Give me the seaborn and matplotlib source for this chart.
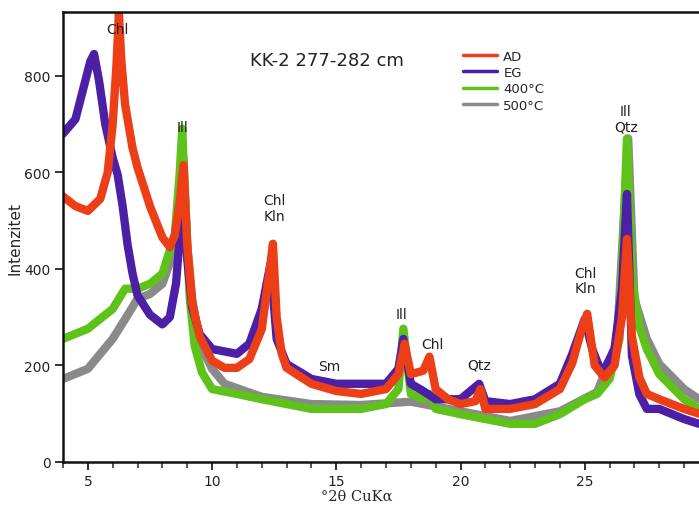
import numpy as np
import pandas as pd
import matplotlib
matplotlib.use("Agg")
import matplotlib.pyplot as plt
import seaborn as sns
from matplotlib.ticker import MultipleLocator

# ---- data (°2θ, intensity) ----
ad_x = [4.0, 4.5, 5.0, 5.5, 5.8, 6.0, 6.15, 6.25, 6.35, 6.5, 6.8, 7.0, 7.5, 8.0, 8.3, 8.5, 8.7, 8.85,
        9.0, 9.2, 9.5, 10.0, 10.5, 11.0, 11.5, 12.0, 12.3, 12.45, 12.6, 12.8, 13.0, 14.0, 15.0, 16.0,
        17.0, 17.5, 17.75, 18.0, 18.5, 18.75, 19.0, 19.5, 20.0, 20.6, 20.8, 21.0, 22.0, 23.0, 24.0,
        24.5, 24.85, 25.1, 25.4, 25.8, 26.2, 26.5, 26.7, 26.9, 27.2, 27.5, 28.0, 29.0, 29.6]
ad_y = [550, 530, 520, 545, 600, 700, 820, 930, 830, 740, 650, 610, 530, 465, 445, 470, 540, 615,
        450, 330, 260, 210, 195, 195, 213, 275, 390, 452, 300, 225, 195, 162, 147, 141,
        151, 182, 245, 182, 189, 218, 151, 130, 120, 126, 151, 110, 110, 120, 151,
        205, 270, 307, 200, 175, 200, 300, 462, 260, 175, 141, 130, 110, 100]

eg_x = [4.0, 4.5, 4.8, 5.1, 5.25, 5.45, 5.7, 6.0, 6.2, 6.4, 6.6, 6.8, 7.0, 7.5, 8.0, 8.3, 8.55, 8.75,
        8.85, 9.0, 9.2, 9.5, 10.0, 11.0, 11.5, 12.0, 12.35, 12.6, 13.0, 14.0, 15.0, 16.0, 17.0, 17.5,
        17.7, 18.0, 18.5, 19.0, 20.0, 20.75, 21.0, 22.0, 23.0, 24.0, 24.5, 25.0, 25.3, 25.7, 26.2,
        26.5, 26.7, 26.9, 27.2, 27.5, 28.0, 29.0, 29.6]
eg_y = [680, 710, 770, 830, 845, 790, 700, 630, 595, 530, 450, 390, 345, 305, 285, 300, 370, 500,
        570, 420, 320, 265, 234, 224, 245, 317, 410, 255, 203, 172, 162, 162, 162, 193,
        255, 162, 147, 130, 130, 162, 126, 120, 130, 162, 224, 296, 234, 182, 234,
        359, 555, 220, 140, 110, 110, 89, 79]

c400_x = [4.0, 5.0, 6.0, 6.5, 7.0, 7.5, 8.0, 8.5, 8.7, 8.8, 8.9, 9.1, 9.3, 9.6, 10.0, 11.0, 12.0, 13.0,
          14.0, 15.0, 16.0, 17.0, 17.5, 17.7, 18.0, 18.5, 18.75, 19.0, 20.0, 21.0, 22.0, 23.0, 24.0,
          25.0, 25.5, 26.0, 26.4, 26.7, 26.9, 27.2, 27.5, 28.0, 29.0, 29.6]
c400_y = [255, 276, 317, 359, 359, 369, 390, 470, 600, 690, 560, 340, 240, 185, 151, 141, 130, 120,
          110, 110, 110, 120, 151, 276, 141, 130, 141, 110, 99, 89, 79, 79, 99,
          130, 141, 172, 255, 670, 380, 280, 234, 182, 130, 110]

c500_x = [4.0, 5.0, 6.0, 6.5, 7.0, 7.5, 8.0, 8.5, 8.7, 8.85, 9.0, 9.2, 9.5, 10.0, 10.5, 12.0, 14.0,
          16.0, 18.0, 20.0, 22.0, 24.0, 25.5, 26.3, 26.75, 27.0, 27.5, 28.0, 29.0, 29.6]
c500_y = [172, 193, 255, 296, 338, 348, 369, 441, 540, 628, 450, 338, 245, 193, 162, 135, 120,
          118, 125, 105, 85, 105, 145, 250, 670, 338, 255, 203, 151, 130]

series_names = ["AD", "EG", "400°C", "500°C"]
series_colors = ["#ec3f17", "#4b1fa6", "#5fc21b", "#8a8a8a"]

labels = [("Chl", 6.21, 897), ("Ill", 8.82, 694), ("Chl\nKln", 12.51, 526), ("Sm", 14.72, 199),
          ("Ill", 17.61, 307), ("Chl", 18.86, 245), ("Qtz", 20.75, 201), ("Chl\nKln", 25.04, 375),
          ("Ill\nQtz", 26.65, 711)]

# ---- build long table ----
frames = []
for name, xs, ys in zip(series_names, [ad_x, eg_x, c400_x, c500_x], [ad_y, eg_y, c400_y, c500_y]):
    frames.append(pd.DataFrame({"x": xs, "y": ys, "series": name}))
df = pd.concat(frames, ignore_index=True)

sns.set_style("white")
plt.rcParams["font.family"] = ["DejaVu Sans"]

fig = plt.figure(figsize=(6.99, 5.06), dpi=100)
ax = fig.add_axes([63 / 699, 1 - 463 / 506, 1 - 63 / 699, (463 - 13) / 506])

palette = dict(zip(series_names, series_colors))
draw_order = ["500°C", "400°C", "EG", "AD"]
for name in draw_order:
    sub = df[df["series"] == name]
    sns.lineplot(data=sub, x="x", y="y", color=palette[name], lw=6, sort=False,
                 estimator=None, ax=ax, legend=False, zorder=2)

ax.set_xlim(4.0, 29.6)
ax.set_ylim(0, 932)
ax.xaxis.set_major_locator(MultipleLocator(5))
ax.xaxis.set_minor_locator(MultipleLocator(1))
ax.yaxis.set_major_locator(MultipleLocator(200))
ax.tick_params(axis="both", which="major", direction="out", length=6, width=1.3,
               labelsize=10, colors="#222222", bottom=True, left=True, pad=3)
ax.tick_params(axis="x", which="minor", direction="out", length=4, width=1.1, bottom=True)
for s in ["left", "bottom", "top"]:
    ax.spines[s].set_linewidth(1.8)
    ax.spines[s].set_color("#111111")
ax.spines["right"].set_visible(False)

ax.set_xlabel("°2θ CuKα", family="DejaVu Serif", fontsize=10.5)
ax.xaxis.set_label_coords(0.462, -0.059)
ax.set_ylabel("Intenzitet", fontsize=11, labelpad=1)

ax.text(0.415, 0.893, "KK-2 277-282 cm", transform=ax.transAxes, ha="center", va="center",
        fontsize=13, color="#222222")

for txt, x, y in labels:
    ax.text(x, y, txt, ha="center", va="center", fontsize=10, color="#222222",
            linespacing=1.1, zorder=5)

handles = [plt.Line2D([], [], color=c, lw=2.5) for c in series_colors]
ax.legend(handles, series_names, loc="upper left", bbox_to_anchor=(0.629, 0.916), frameon=False,
          fontsize=9.5, handlelength=2.6, handletextpad=0.45, labelspacing=0.25, borderpad=0,
          borderaxespad=0)

fig.savefig("out.png", dpi=100)
